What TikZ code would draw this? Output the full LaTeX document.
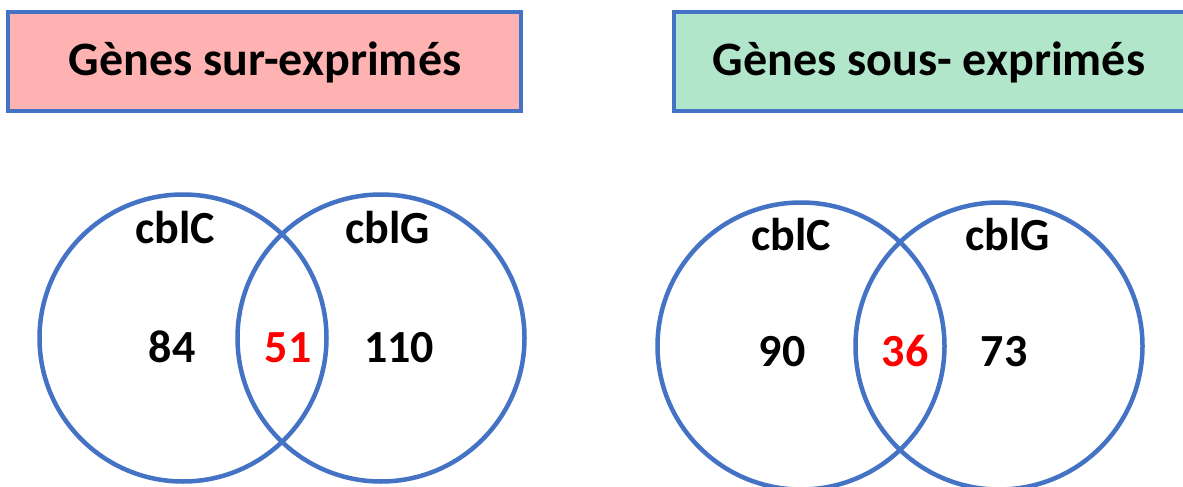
\documentclass[tikz,border=0pt]{standalone}
\usepackage{fontspec}
\setmainfont{Carlito}
\definecolor{vblue}{HTML}{4472C4}
\definecolor{pinkfill}{HTML}{FFB2B2}
\definecolor{greenfill}{HTML}{B2E6CA}
\definecolor{vred}{HTML}{FF0000}
\tikzset{
  titlebox/.style={draw=vblue, line width=4.5pt, inner sep=0pt},
  venn/.style={draw=vblue, line width=4.5pt, circle, minimum size=287pt, inner sep=0pt},
  lbl/.style={font=\fontsize{46}{55}\selectfont\bfseries, anchor=base, inner sep=0pt},
  ttl/.style={font=\fontsize{48}{57}\selectfont\bfseries, anchor=base, inner sep=0pt},
  num/.style={lbl},
  inter/.style={lbl, text=vred}
}
\begin{document}
\begin{tikzpicture}[x=1pt, y=-1pt]
\clip (0,0) rectangle (1183,487);
\fill[white] (0,0) rectangle (1183,487);
% title boxes
\draw[titlebox, fill=pinkfill] (8,12) rectangle (521,111);
\draw[titlebox, fill=greenfill] (674,12) rectangle (1195,111);
\node[ttl] (t1) at (265,76) {Gènes sur-exprimés};
\node[ttl] (t2) at (929,76) {Gènes sous- exprimés};
% left Venn
\node[venn] (c1) at (183,338) {};
\node[venn] (g1) at (381,338) {};
\node[lbl] (lc1) at (175,243) {cblC};
\node[lbl] (lg1) at (388,243) {cblG};
\node[num] (n84) at (172,362) {84};
\node[inter] (n51) at (288,362) {51};
\node[num] (n110) at (399,362) {110};
% right Venn
\node[venn] (c2) at (801,346) {};
\node[venn] (g2) at (999,346) {};
\node[lbl] (lc2) at (791,250) {cblC};
\node[lbl] (lg2) at (1008,250) {cblG};
\node[num] (n90) at (782,366) {90};
\node[inter] (n36) at (905,366) {36};
\node[num] (n73) at (1004,366) {73};
\end{tikzpicture}
\end{document}
